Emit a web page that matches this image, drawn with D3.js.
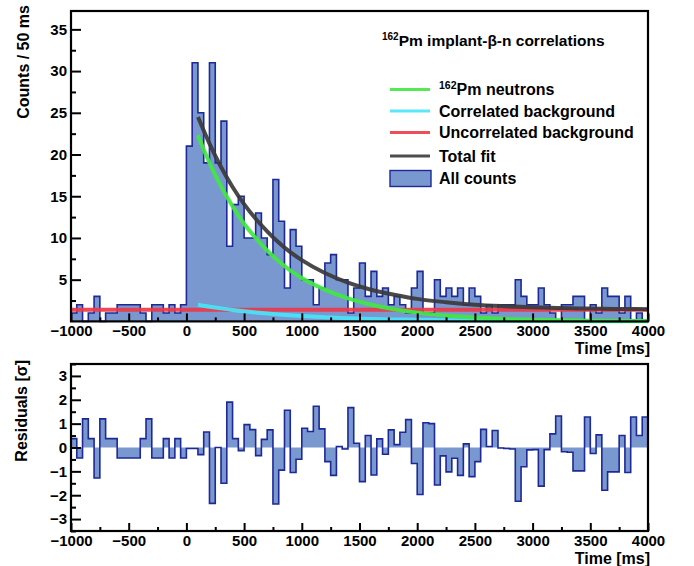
<!DOCTYPE html>
<html>
<head>
<meta charset="utf-8">
<script src="https://cdn.jsdelivr.net/npm/d3@7"></script>
<style>
body { margin: 0; background: #fff; }
svg text { font-family: "Liberation Sans", Helvetica, Arial, sans-serif; font-weight: bold; fill: #000; }
</style>
</head>
<body>
<div id="chart"></div>
<script>
// histogram: 50 ms bins starting at -1000 ms
const binWidth = 50;
const firstBin = -1000;

const counts = [
    1, 2, 0, 1, 3, 0, 1, 1, 2, 2, 2, 2, 1, 0, 2, 2, 1, 2, 1, 2,
    21, 31, 25, 19, 31, 19, 24, 9, 14, 15, 10, 10, 13, 10, 8, 17, 12, 4, 11, 9,
    5, 5, 2, 4, 7, 8, 5, 5, 1, 4, 7, 3, 6, 3, 4, 2, 3, 2, 1, 4,
    6, 1, 1, 5, 3, 4, 3, 4, 2, 4, 3, 1, 2, 1, 2, 2, 2, 5, 3, 2,
    2, 4, 2, 1, 0, 2, 2, 3, 3, 0, 2, 1, 4, 3, 3, 1, 3, 0, 1, 0
];

const residuals = [
    0.37, -0.44, 1.2, 0.37, -1.28, 1.2, 0.37, 0.37, -0.44, -0.44,
    -0.44, -0.44, 0.37, 1.2, -0.44, -0.44, 0.37, -0.44, 0.37, -0.44,
    -0.04, -0.04, -0.3, 0.65, -2.34, 0.0, -1.5, 1.9, 0.37, -0.13,
    0.96, 0.75, -0.34, 0.34, 0.74, -2.37, -0.95, 1.56, -1.05, -0.49,
    0.81, 0.67, 1.73, 0.78, -0.59, -1.17, 0.04, -0.06, 1.67, 0.18,
    -1.43, 0.5, -1.15, 0.36, -0.28, 0.74, 0.12, 0.64, 1.17, -0.67,
    -1.97, 1.04, 1.0, -1.57, -0.35, -1.02, -0.45, -1.17, 0.15, -1.22,
    -0.59, 0.76, 0.04, 0.71, -0.02, -0.04, -0.06, -2.25, -0.81, -0.1,
    -0.09, -1.62, -0.09, 0.57, 1.32, -0.18, -0.2, -0.98, -0.98, 1.28,
    -0.25, 0.53, -1.79, -1.02, -1.02, 0.5, -1.05, 1.28, 0.5, 1.28
];

const fitTimes = [100, 200, 300, 400, 500, 600, 700, 800, 900, 1000, 1200, 1400,
    1600, 1800, 2000, 2250, 2500, 2750, 3000, 3250, 3500, 3750, 4000];
const neutronFit = [22.3, 19.0, 16.2, 13.8, 11.7, 10.0, 8.5, 7.2, 6.1, 5.2, 3.8, 2.75,
    2.0, 1.45, 1.05, 0.7, 0.46, 0.31, 0.21, 0.14, 0.09, 0.06, 0.04];
const corrBkgFit = [2.0, 1.76, 1.56, 1.37, 1.21, 1.07, 0.94, 0.83, 0.73, 0.65, 0.5, 0.39,
    0.3, 0.24, 0.19, 0.14, 0.1, 0.07, 0.05, 0.04, 0.03, 0.02, 0.02];
const totalFit = [24.5, 21.3, 18.5, 16.1, 14.05, 12.3, 10.8, 9.45, 8.3, 7.35, 5.8, 4.65,
    3.8, 3.2, 2.7, 2.3, 2.0, 1.82, 1.69, 1.6, 1.54, 1.49, 1.47];
const uncorrTimes = [-1000, 4000];
const uncorrBkgFit = [1.4, 1.4];

const legendNames = ["Pm neutrons", "Correlated background", "Uncorrelated background", "Total fit", "All counts"];
const lineColors = ["#40e840", "#48e4f6", "#ec3a48", "#3a3a3a"];

const fillColor = "#7a98d0";
const edgeColor = "#1e2896";

class DecayFitVis {

    constructor(_parentElement) {
        this.parentElement = _parentElement;
        this.initVis();
    }

    initVis() {
        let vis = this;

        vis.width = 694;
        vis.height = 566;

        vis.svg = d3.select("#" + vis.parentElement).append("svg")
            .attr("width", vis.width)
            .attr("height", vis.height);

        vis.left = 71;
        vis.right = 648;

        vis.x = d3.scaleLinear().domain([-1000, 4000]).range([vis.left, vis.right]);
        vis.yTop = d3.scaleLinear().domain([0, 37.2]).range([321.4, 11]);
        vis.yRes = d3.scaleLinear().domain([-3.5, 3.5]).range([531, 364]);

        // bin data
        vis.bins = counts.map((c, i) => ({t: firstBin + i * binWidth, v: c}));
        vis.resBins = residuals.map((r, i) => ({t: firstBin + i * binWidth, v: r}));

        vis.drawTop();
        vis.drawResiduals();
        vis.drawLegend();
    }

    stepPoints(bins) {
        let pts = [{t: bins[0].t, v: 0}];
        bins.forEach(d => pts.push(d));
        let last = bins[bins.length - 1];
        pts.push({t: last.t + binWidth, v: last.v});
        pts.push({t: last.t + binWidth, v: 0});
        return pts;
    }

    drawAxes(y, yTicks, yMinor, top, bottom) {
        let vis = this;

        let xMajor = d3.range(-1000, 4001, 500);
        let xMinor = d3.range(-750, 4000, 500);

        vis.svg.append("g")
            .attr("transform", "translate(0," + bottom + ")")
            .call(d3.axisBottom(vis.x).tickValues(xMinor).tickSizeInner(-4).tickSizeOuter(0).tickFormat(""))
            .call(g => g.select(".domain").remove())
            .selectAll("line").attr("stroke", "#000").attr("stroke-width", 2);

        let xg = vis.svg.append("g")
            .attr("transform", "translate(0," + bottom + ")")
            .call(d3.axisBottom(vis.x).tickValues(xMajor).tickSizeInner(-8).tickSizeOuter(0)
                .tickPadding(4).tickFormat(d3.format("d")));
        xg.select(".domain").remove();
        xg.selectAll("line").attr("stroke", "#000").attr("stroke-width", 2);
        xg.selectAll("text").attr("font-size", 15).attr("font-family", null);

        vis.svg.append("g")
            .attr("transform", "translate(" + vis.left + ",0)")
            .call(d3.axisLeft(y).tickValues(yMinor).tickSizeInner(-5).tickSizeOuter(0).tickFormat(""))
            .call(g => g.select(".domain").remove())
            .selectAll("line").attr("stroke", "#000").attr("stroke-width", 2);

        let yg = vis.svg.append("g")
            .attr("transform", "translate(" + vis.left + ",0)")
            .call(d3.axisLeft(y).tickValues(yTicks).tickSizeInner(-10).tickSizeOuter(0)
                .tickPadding(4).tickFormat(d3.format("d")));
        yg.select(".domain").remove();
        yg.selectAll("line").attr("stroke", "#000").attr("stroke-width", 2);
        yg.selectAll("text").attr("font-size", 15).attr("font-family", null);

        // frame
        vis.svg.append("rect")
            .attr("x", vis.left)
            .attr("y", top)
            .attr("width", vis.right - vis.left)
            .attr("height", bottom - top)
            .attr("fill", "none")
            .attr("stroke", "#000")
            .attr("stroke-width", 2.2);
    }

    drawTop() {
        let vis = this;
        let g = vis.svg.append("g");

        let pts = vis.stepPoints(vis.bins);

        g.append("path")
            .datum(pts)
            .attr("fill", fillColor)
            .attr("d", d3.area()
                .x(d => vis.x(d.t))
                .y0(vis.yTop(0))
                .y1(d => vis.yTop(d.v))
                .curve(d3.curveStepAfter));

        g.append("path")
            .datum(pts)
            .attr("fill", "none")
            .attr("stroke", edgeColor)
            .attr("stroke-width", 1.6)
            .attr("d", d3.line()
                .x(d => vis.x(d.t))
                .y(d => vis.yTop(d.v))
                .curve(d3.curveStepAfter));

        // fit components
        let fitLine = d3.line()
            .x(d => vis.x(d[0]))
            .y(d => vis.yTop(d[1]))
            .curve(d3.curveMonotoneX);

        let curves = [
            {vals: d3.zip(uncorrTimes, uncorrBkgFit), color: lineColors[2]},
            {vals: d3.zip(fitTimes, corrBkgFit), color: lineColors[1]},
            {vals: d3.zip(fitTimes, neutronFit), color: lineColors[0]},
            {vals: d3.zip(fitTimes, totalFit), color: lineColors[3]}
        ];

        curves.forEach(c => {
            g.append("path")
                .datum(c.vals)
                .attr("fill", "none")
                .attr("stroke", c.color)
                .attr("stroke-opacity", 0.92)
                .attr("stroke-width", 4)
                .attr("d", fitLine);
        });

        vis.drawAxes(vis.yTop, d3.range(5, 36, 5), d3.range(2.5, 37, 5), 11, 321.4);

        vis.svg.append("text")
            .attr("text-anchor", "end")
            .attr("x", 650)
            .attr("y", 354)
            .attr("font-size", 16)
            .text("Time [ms]");

        vis.svg.append("text")
            .attr("text-anchor", "end")
            .attr("transform", "translate(28.5,5) rotate(-90)")
            .attr("font-size", 16)
            .text("Counts / 50 ms");
    }

    drawResiduals() {
        let vis = this;
        let g = vis.svg.append("g");

        let pts = vis.stepPoints(vis.resBins);

        g.append("path")
            .datum(pts)
            .attr("fill", fillColor)
            .attr("d", d3.area()
                .x(d => vis.x(d.t))
                .y0(vis.yRes(0))
                .y1(d => vis.yRes(d.v))
                .curve(d3.curveStepAfter));

        g.append("path")
            .datum(pts)
            .attr("fill", "none")
            .attr("stroke", edgeColor)
            .attr("stroke-width", 1.6)
            .attr("d", d3.line()
                .x(d => vis.x(d.t))
                .y(d => vis.yRes(d.v))
                .curve(d3.curveStepAfter));

        vis.drawAxes(vis.yRes, d3.range(-3, 4, 1), d3.range(-3.5, 3.6, 1), 364, 531);

        vis.svg.append("text")
            .attr("text-anchor", "end")
            .attr("x", 650)
            .attr("y", 564)
            .attr("font-size", 16)
            .text("Time [ms]");

        vis.svg.append("text")
            .attr("text-anchor", "end")
            .attr("transform", "translate(27,360) rotate(-90)")
            .attr("font-size", 16)
            .text("Residuals [σ]");
    }

    drawLegend() {
        let vis = this;
        let lg = vis.svg.append("g");

        // title
        let title = lg.append("text")
            .attr("x", 382)
            .attr("y", 46)
            .attr("font-size", 15.5);
        title.append("tspan").attr("font-size", 10).attr("dy", -6).text("162");
        title.append("tspan").attr("dy", 6).text("Pm implant-β-n correlations");

        let rowY = [89.5, 111, 132.5, 156, 178.5];

        lineColors.forEach((c, i) => {
            lg.append("line")
                .attr("x1", 390).attr("x2", 430)
                .attr("y1", rowY[i]).attr("y2", rowY[i])
                .attr("stroke", c)
                .attr("stroke-opacity", 0.9)
                .attr("stroke-width", 3);
        });

        lg.append("rect")
            .attr("x", 390).attr("y", rowY[4] - 8)
            .attr("width", 41).attr("height", 16)
            .attr("fill", fillColor)
            .attr("stroke", edgeColor)
            .attr("stroke-width", 1.4);

        legendNames.forEach((name, i) => {
            let t = lg.append("text")
                .attr("x", 439)
                .attr("y", rowY[i] + 5.5)
                .attr("font-size", 16);
            if (i === 0) {
                t.append("tspan").attr("font-size", 10.5).attr("dy", -6).text("162");
                t.append("tspan").attr("dy", 6).text(name);
            } else {
                t.text(name);
            }
        });
    }
}

new DecayFitVis("chart");
</script>
</body>
</html>
